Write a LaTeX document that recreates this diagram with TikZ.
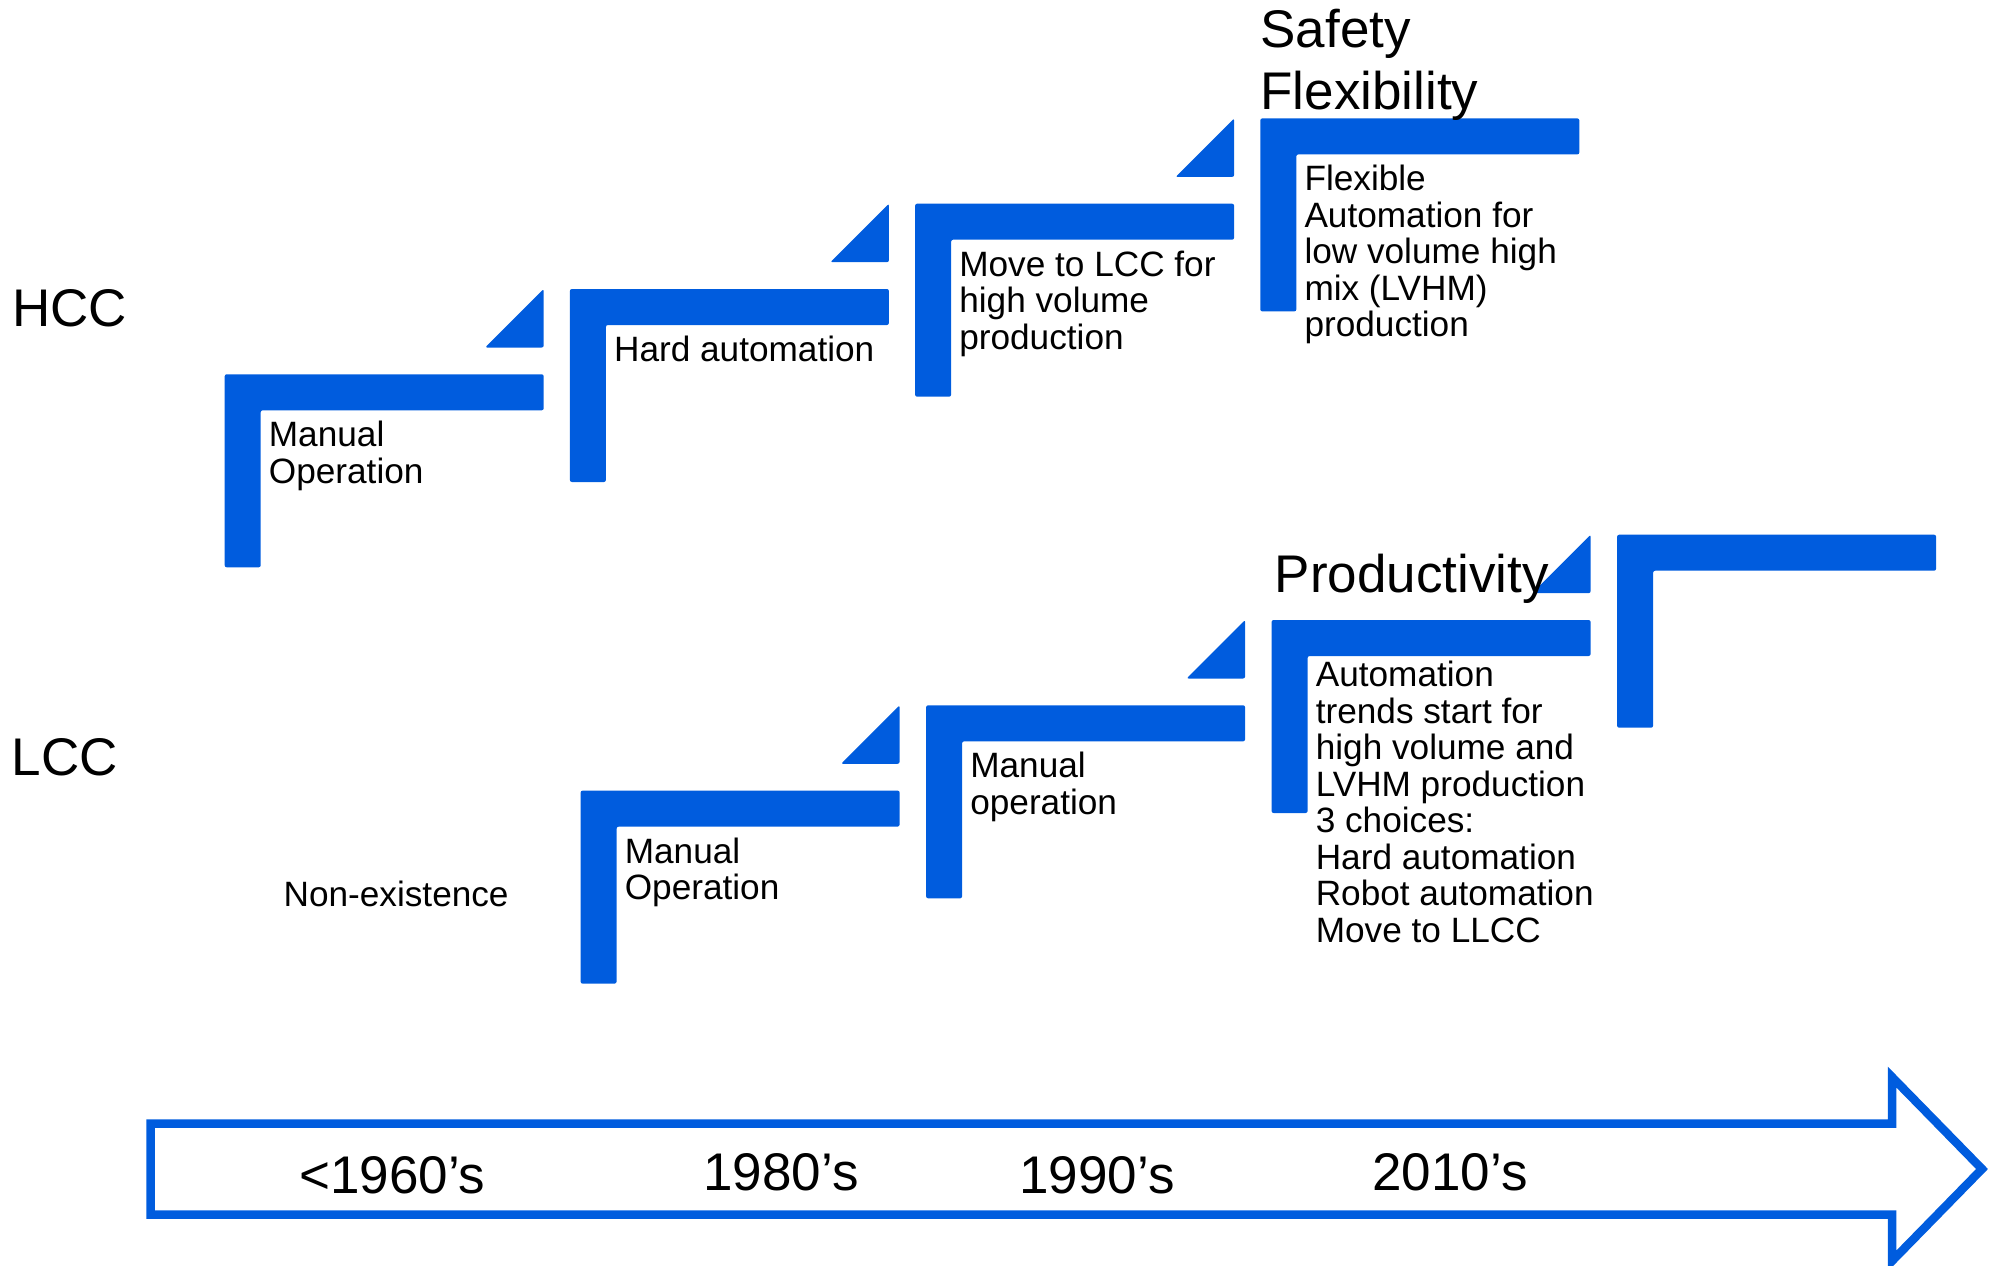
\documentclass[tikz,border=0pt]{standalone}
\usepackage{fontspec}
\setmainfont{Liberation Sans}
\definecolor{stepblue}{RGB}{0,92,222}
\newcommand{\drawstep}[3]{%
  \fill[stepfill] (#2,#3) -- ++(319,0) -- ++(0,36) -- ++(-283,0) -- ++(0,157) -- ++(-36,0) -- cycle;
  \coordinate (#1) at (#2,#3);%
}
\newcommand{\drawtri}[3]{%
  \fill[stepfill] (#2-58.5,#3+58.5) -- (#2,#3+58.5) -- (#2,#3) -- cycle;
  \coordinate (#1) at (#2,#3);%
}
\newcommand{\lines}[1]{\begin{tabular}[t]{@{}l@{}}#1\end{tabular}}
\begin{document}
\begin{tikzpicture}[x=1pt,y=-1pt,
  stepfill/.style={fill=stepblue, rounded corners=2pt},
  small/.style={font=\fontsize{35.2}{36.5}\selectfont, inner sep=0pt, anchor=base west},
  big/.style={font=\fontsize{53}{62.3}\selectfont, inner sep=0pt, anchor=base west},
  yearlbl/.style={font=\fontsize{53}{62.3}\selectfont, inner sep=0pt, anchor=base},
]
\useasboundingbox (0,0) rectangle (1998,1266);
\clip (0,0) rectangle (1998,1266);

% HCC steps
\drawstep{h0}{224.7}{374.3}
\drawstep{h1}{569.9}{289.0}
\drawstep{h2}{915.1}{203.7}
\drawstep{h3}{1260.3}{118.4}
\drawtri{ht0}{543.7}{289.0}
\drawtri{ht1}{888.9}{203.7}
\drawtri{ht2}{1234.1}{118.4}

% LCC steps
\drawstep{l0}{580.6}{790.6}
\drawstep{l1}{926.1}{705.3}
\drawstep{l2}{1271.6}{620.0}
\drawstep{l3}{1617.1}{534.7}
\drawtri{lt0}{899.6}{705.3}
\drawtri{lt1}{1245.1}{620.0}
\drawtri{lt2}{1590.6}{534.7}

% timeline arrow
\draw[stepblue, line width=8.5pt, miter limit=10]
  (150.5,1123.5) -- (1892,1123.5) -- (1892,1077) -- (1982,1169)
  -- (1892,1261) -- (1892,1214.5) -- (150.5,1214.5) -- cycle;

% step texts
\node[small] (h0t) at (268.7,446.7) {\lines{Manual\\Operation}};
\node[small] (h1t) at (613.9,361.4) {\lines{Hard automation}};
\node[small] (h2t) at (959.1,276.1) {\lines{Move to LCC for\\high volume\\production}};
\node[small] (h3t) at (1304.3,190.8) {\lines{Flexible\\Automation for\\low volume high\\mix (LVHM)\\production}};

\node[small] (l0t) at (624.6,863.0) {\lines{Manual\\Operation}};
\node[small] (l1t) at (970.1,777.7) {\lines{Manual\\operation}};
\node[small] (l2t) at (1315.6,686.7) {\lines{Automation\\trends start for\\high volume and\\LVHM production\\3 choices:\\Hard automation\\Robot automation\\Move to LLCC}};

\node[small] (nonex) at (283.4,906) {Non-existence};

% big labels
\node[big] (hcc) at (12,326.7) {HCC};
\node[big] (lcc) at (11.5,775) {LCC};
\node[big] (safe) at (1260.3,47.7) {\lines{Safety\\Flexibility}};
\node[big] (prod) at (1274.5,592.7) {Productivity};

% timeline labels
\node[yearlbl] (y60) at (392.4,1193) {<1960’s};
\node[yearlbl] (y80) at (781,1190) {1980’s};
\node[yearlbl] (y90) at (1097,1193) {1990’s};
\node[yearlbl] (y10) at (1450,1190) {2010’s};
\end{tikzpicture}
\end{document}
